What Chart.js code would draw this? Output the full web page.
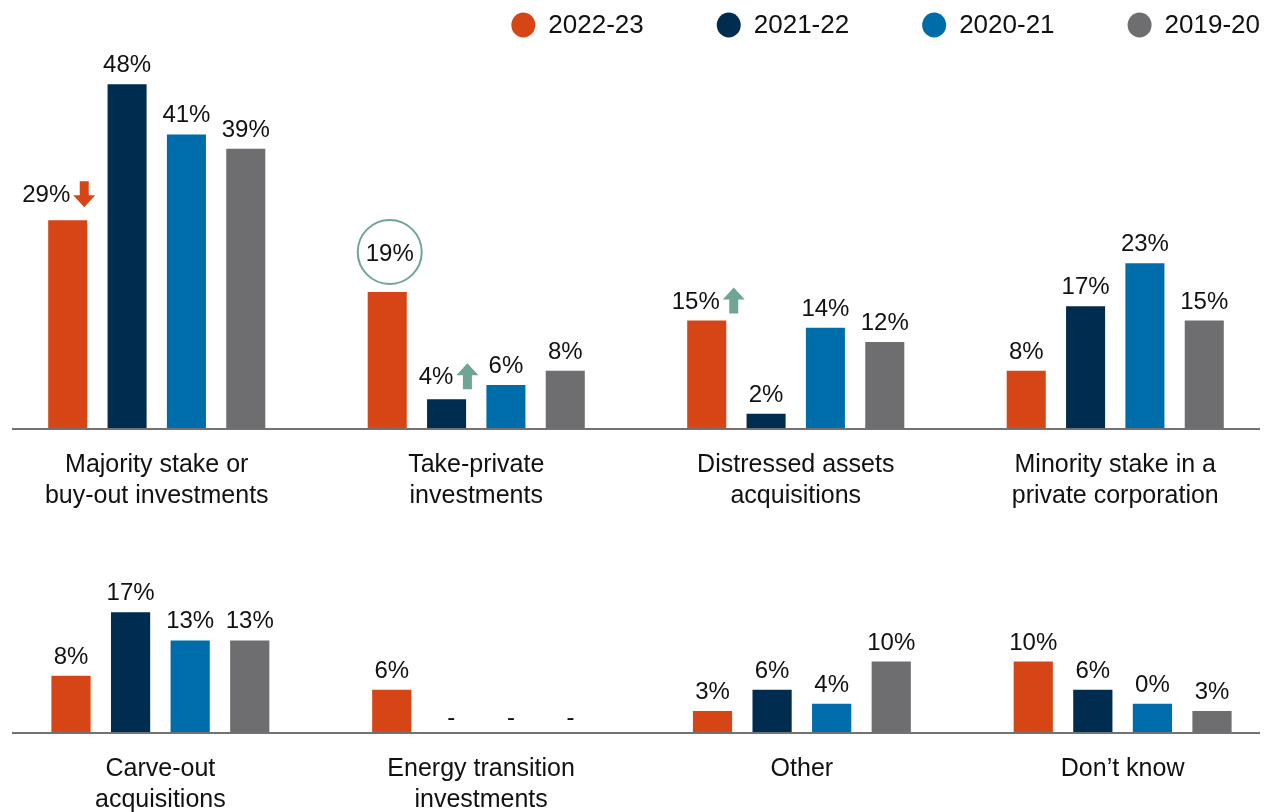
<!DOCTYPE html>
<html>
<head>
<meta charset="utf-8">
<script src="https://cdn.jsdelivr.net/npm/chart.js@4/dist/chart.umd.min.js"></script>
<style>
  html, body { margin: 0; padding: 0; background: #fff; overflow: hidden; width: 1271px; height: 812px; }
  #topWrap { position: absolute; left: -3px; top: 0; width: 1278px; height: 530px; }
  #bottomWrap { position: absolute; left: 0; top: 530px; width: 1283px; height: 302px; }
</style>
</head>
<body>
<div id="topWrap"><canvas id="topChart"></canvas></div>
<div id="bottomWrap"><canvas id="bottomChart"></canvas></div>
<script>
var seriesNames = ["2022-23", "2021-22", "2020-21", "2019-20"];
var seriesColors = ["#d64515", "#002c50", "#006dab", "#6e6e70"];

var topCategories = [["Majority stake or", "buy-out investments"], ["Take-private", "investments"], ["Distressed assets", "acquisitions"], ["Minority stake in a", "private corporation"]];
var top2223 = [29, 19, 15, 8];
var top2122 = [48, 4, 2, 17];
var top2021 = [41, 6, 14, 23];
var top1920 = [39, 8, 12, 15];

var bottomCategories = [["Carve-out", "acquisitions"], ["Energy transition", "investments"], ["Other"], ["Don\u2019t know"]];
var bottom2223 = [8, 6, 3, 10];
var bottom2122 = [17, null, 6, 6];
var bottom2021 = [13, null, 4, 4];
var bottom1920 = [13, null, 10, 3];
// label printed on the chart where it differs from the bar height
var bottomTextOverride = { "2-3": "0%" };

var FONT = '"Liberation Sans", Arial, sans-serif';
var GREEN = "#6fa594";

var drawArrow = function (ctx, left, top, dir, color) {
    var w = 22, h = 26, head = 12, sh = 4.5;
    var cx = left + w / 2;
    ctx.beginPath();
    if (dir === "up") {
        ctx.moveTo(cx, top);
        ctx.lineTo(left + w, top + head);
        ctx.lineTo(cx + sh, top + head);
        ctx.lineTo(cx + sh, top + h);
        ctx.lineTo(cx - sh, top + h);
        ctx.lineTo(cx - sh, top + head);
        ctx.lineTo(left, top + head);
    } else {
        ctx.moveTo(cx, top + h);
        ctx.lineTo(left + w, top + h - head);
        ctx.lineTo(cx + sh, top + h - head);
        ctx.lineTo(cx + sh, top);
        ctx.lineTo(cx - sh, top);
        ctx.lineTo(cx - sh, top + h - head);
        ctx.lineTo(left, top + h - head);
    }
    ctx.closePath();
    ctx.fillStyle = color;
    ctx.fill();
};

var valueLabels = {
    id: "valueLabels",
    afterDatasetsDraw: function (chart, args, opts) {
        var ctx = chart.ctx;
        var base = chart.scales.y.getPixelForValue(0);
        var notes = opts.notes || {};
        var texts = opts.texts || {};
        ctx.save();
        ctx.font = "24px " + FONT;
        ctx.textAlign = "center";
        chart.data.datasets.forEach(function (ds, di) {
            var meta = chart.getDatasetMeta(di);
            meta.data.forEach(function (bar, i) {
                var v = ds.data[i];
                var key = di + "-" + i;
                ctx.fillStyle = "#111";
                if (v === null) {
                    ctx.textBaseline = "middle";
                    ctx.fillText("-", bar.x, base - 14);
                    return;
                }
                ctx.textBaseline = "alphabetic";
                var text = texts[key] || (v + "%");
                var note = notes[key];
                var x = bar.x + (note ? note.dx : 0);
                var y = bar.y - (note ? note.dy : 12);
                ctx.fillText(text, x, y);
                if (note && note.arrow) {
                    drawArrow(ctx, x + ctx.measureText(text).width / 2 + 3, y - 21, note.arrow, note.color);
                }
                if (note && note.ring) {
                    ctx.beginPath();
                    ctx.arc(x, y - 9, 32, 0, Math.PI * 2);
                    ctx.strokeStyle = note.color;
                    ctx.lineWidth = 2;
                    ctx.stroke();
                }
            });
        });
        ctx.restore();
    }
};

var baseLine = {
    id: "baseLine",
    afterDatasetsDraw: function (chart, args, opts) {
        var ctx = chart.ctx;
        var y = chart.scales.y.getPixelForValue(0) + 1;
        ctx.save();
        ctx.strokeStyle = "#727272";
        ctx.lineWidth = 2;
        ctx.beginPath();
        ctx.moveTo(opts.from, y);
        ctx.lineTo(opts.to, y);
        ctx.stroke();
        ctx.restore();
    }
};

var dotLegend = {
    id: "dotLegend",
    afterDraw: function (chart, args, opts) {
        if (!opts.show) return;
        var ctx = chart.ctx;
        ctx.save();
        ctx.font = "26px " + FONT;
        ctx.textBaseline = "middle";
        ctx.textAlign = "left";
        var items = chart.data.datasets.map(function (ds) {
            return { text: ds.label, color: ds.backgroundColor, w: ctx.measureText(ds.label).width };
        });
        var x = opts.right;
        for (var k = items.length - 1; k >= 0; k--) {
            var it = items[k];
            var textX = x - it.w;
            var cx = textX - 13 - 12;
            ctx.fillStyle = "#111";
            ctx.fillText(it.text, textX, opts.y + 1);
            ctx.beginPath();
            ctx.ellipse(cx, opts.y, 12, 12.5, 0, 0, Math.PI * 2);
            ctx.fillStyle = it.color;
            ctx.fill();
            x = cx - 12 - 73;
        }
        ctx.restore();
    }
};

var makeDatasets = function (rows) {
    return rows.map(function (vals, k) {
        return {
            label: seriesNames[k],
            data: vals,
            backgroundColor: seriesColors[k],
            categoryPercentage: 0.743,
            barPercentage: 0.658
        };
    });
};

var makeOptions = function (yMax, padTop, axisHeight, extra) {
    return {
        responsive: true,
        maintainAspectRatio: false,
        animation: false,
        layout: { padding: { top: padTop, left: 0, right: 0, bottom: 0 } },
        scales: {
            x: {
                grid: { display: false, drawTicks: false },
                border: { display: false },
                ticks: {
                    padding: 22,
                    color: "#111",
                    autoSkip: false,
                    maxRotation: 0,
                    font: { family: FONT, size: 25, lineHeight: 1.24 }
                },
                afterFit: function (scale) { scale.height = axisHeight; }
            },
            y: { display: false, min: 0, max: yMax }
        },
        plugins: Object.assign({
            legend: { display: false },
            tooltip: { enabled: false }
        }, extra)
    };
};

var drawCharts = function () {
    new Chart(document.getElementById("topChart"), {
        type: "bar",
        data: {
            labels: topCategories,
            datasets: makeDatasets([top2223, top2122, top2021, top1920])
        },
        options: makeOptions(50, 70, 102, {
            valueLabels: {
                notes: {
                    "0-0": { dx: -21.5, dy: 18, arrow: "down", color: "#d64515" },
                    "1-1": { dx: -10.5, dy: 15, arrow: "up", color: GREEN },
                    "0-2": { dx: -11, dy: 12, arrow: "up", color: GREEN },
                    "0-1": { dx: 2.5, dy: 31, ring: true, color: GREEN }
                }
            },
            baseLine: { from: 15, to: 1263 },
            dotLegend: { show: true, right: 1263, y: 25 }
        }),
        plugins: [valueLabels, baseLine, dotLegend]
    });

    new Chart(document.getElementById("bottomChart"), {
        type: "bar",
        data: {
            labels: bottomCategories,
            datasets: makeDatasets([bottom2223, bottom2122, bottom2021, bottom1920])
        },
        options: makeOptions(25, 26, 100, {
            valueLabels: { texts: bottomTextOverride },
            baseLine: { from: 12, to: 1260 },
            dotLegend: { show: false }
        }),
        plugins: [valueLabels, baseLine, dotLegend]
    });
};

window.addEventListener("DOMContentLoaded", drawCharts);
</script>
</body>
</html>
